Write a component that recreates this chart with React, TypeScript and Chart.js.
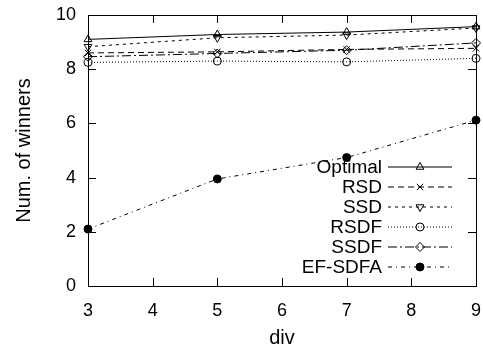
import React, { useEffect, useRef } from "react";
import { Chart, registerables } from "chart.js";
import { drawPoint } from "chart.js/helpers";

Chart.register(...registerables);

const divs = [3, 5, 7, 9];
const optimal = [9.1, 9.28, 9.37, 9.57];
const rsd = [8.6, 8.64, 8.73, 8.77];
const ssd = [8.83, 9.16, 9.26, 9.52];
const rsdf = [8.25, 8.3, 8.27, 8.4];
const ssdf = [8.46, 8.58, 8.7, 8.97];
const efsdfa = [2.1, 3.95, 4.74, 6.12];
const seriesNames = ["Optimal", "RSD", "SSD", "RSDF", "SSDF", "EF-SDFA"];
const xTicks = [3, 4, 5, 6, 7, 8, 9];
const yTicks = [0, 2, 4, 6, 8, 10];
const xTitle = "div";
const yTitle = "Num. of winners";

const FONT = "'Liberation Sans', Arial, sans-serif";

const styles = [
  { dash: [], point: "triangle", rot: 0, fill: false, r: 4.5 },
  { dash: [6, 4], point: "crossRot", rot: 0, fill: false, r: 4.5 },
  { dash: [3, 4], point: "triangle", rot: 180, fill: false, r: 4.5 },
  { dash: [1, 2], point: "circle", rot: 0, fill: false, r: 4 },
  { dash: [9, 3, 2, 3], point: "rectRot", rot: 0, fill: false, r: 4.5 },
  { dash: [4, 4, 1, 4], point: "circle", rot: 0, fill: true, r: 4 },
];

function drawPointShape(ctx: any, st: any, x: number, y: number) {
  ctx.save();
  ctx.strokeStyle = "#000";
  ctx.fillStyle = st.fill ? "#000" : "rgba(255,255,255,0)";
  ctx.lineWidth = 1;
  ctx.setLineDash([]);
  drawPoint(ctx, { pointStyle: st.point, rotation: st.rot, radius: st.r, borderWidth: 1 } as any, x, y);
  ctx.restore();
}

const frameAndLegend = {
  id: "frameAndLegend",
  afterDatasetsDraw(chart: any) {
    const { ctx, chartArea: a, scales } = chart;
    const xs = scales.x;
    const ys = scales.y;
    ctx.save();
    ctx.strokeStyle = "#000";
    ctx.lineWidth = 1;
    ctx.setLineDash([]);
    ctx.strokeRect(Math.round(a.left) + 0.5, Math.round(a.top) + 0.5, Math.round(a.right - a.left), Math.round(a.bottom - a.top));
    const tl = 8;
    ctx.beginPath();
    xTicks.slice(1, -1).forEach((v) => {
      const px = Math.round(xs.getPixelForValue(v)) + 0.5;
      ctx.moveTo(px, a.bottom);
      ctx.lineTo(px, a.bottom - tl);
      ctx.moveTo(px, a.top);
      ctx.lineTo(px, a.top + tl);
    });
    yTicks.slice(1, -1).forEach((v) => {
      const py = Math.round(ys.getPixelForValue(v)) + 0.5;
      ctx.moveTo(a.left, py);
      ctx.lineTo(a.left + tl, py);
      ctx.moveTo(a.right, py);
      ctx.lineTo(a.right - tl, py);
    });
    ctx.stroke();

    // axis titles
    ctx.fillStyle = "#000";
    ctx.font = `20px ${FONT}`;
    ctx.textAlign = "center";
    ctx.textBaseline = "alphabetic";
    ctx.fillText(xTitle, (a.left + a.right) / 2, 344);
    ctx.save();
    ctx.translate(30, (a.top + a.bottom) / 2);
    ctx.rotate(-Math.PI / 2);
    ctx.fillText(yTitle, 0, 0);
    ctx.restore();

    // legend
    const textRight = 382;
    const lineL = 388;
    const lineR = 452;
    const y0 = 166.5;
    const dy = 20;
    ctx.font = `19px ${FONT}`;
    ctx.textAlign = "right";
    ctx.textBaseline = "middle";
    chart.data.datasets.forEach((ds: any, i: number) => {
      const y = y0 + i * dy;
      ctx.fillStyle = "#000";
      ctx.fillText(ds.label, textRight, y + 1);
      ctx.beginPath();
      ctx.setLineDash(styles[i].dash);
      ctx.moveTo(lineL, y + 0.5);
      ctx.lineTo(lineR, y + 0.5);
      ctx.stroke();
      ctx.setLineDash([]);
      drawPointShape(ctx, styles[i], (lineL + lineR) / 2, y + 0.5);
    });
    ctx.restore();
  },
};

export default function App() {
  const ref = useRef<HTMLCanvasElement>(null);
  useEffect(() => {
    const all = [optimal, rsd, ssd, rsdf, ssdf, efsdfa];
    const chart = new Chart(ref.current!, {
      type: "line",
      data: {
        datasets: all.map((vals, i) => ({
          label: seriesNames[i],
          data: divs.map((d, j) => ({ x: d, y: vals[j] })),
          borderColor: "#000",
          borderWidth: 1,
          borderDash: styles[i].dash,
          pointStyle: styles[i].point as any,
          pointRotation: styles[i].rot,
          pointRadius: styles[i].r,
          pointBorderWidth: 1,
          pointBorderColor: "#000",
          pointBackgroundColor: styles[i].fill ? "#000" : "rgba(255,255,255,0)",
          fill: false,
          tension: 0,
          clip: false as any,
        })),
      },
      options: {
        animation: false,
        responsive: false,
        devicePixelRatio: 1,
        layout: { padding: { top: 15, right: 7, left: 0, bottom: 0 } },
        plugins: { legend: { display: false }, tooltip: { enabled: false } },
        scales: {
          x: {
            type: "linear",
            min: 3,
            max: 9,
            grid: { display: false },
            border: { display: false },
            ticks: {
              stepSize: 1,
              color: "#000",
              font: { family: FONT, size: 18 },
              padding: 6,
              maxRotation: 0,
            },
            afterFit: (s: any) => {
              s.height = 59;
              s.paddingRight = 0;
              s.paddingLeft = 0;
            },
          },
          y: {
            min: 0,
            max: 10,
            grid: { display: false },
            border: { display: false },
            ticks: {
              stepSize: 2,
              color: "#000",
              font: { family: FONT, size: 18 },
              padding: 4,
            },
            afterFit: (s: any) => {
              s.width = 88;
              s.paddingTop = 0;
              s.paddingBottom = 0;
            },
          },
        },
      },
      plugins: [frameAndLegend],
    });
    return () => chart.destroy();
  }, []);
  return (
    <div style={{ position: "fixed", left: 0, top: 0, width: 483, height: 345, background: "#fff" }}>
      <canvas ref={ref} width={483} height={345} style={{ display: "block" }} />
    </div>
  );
}
